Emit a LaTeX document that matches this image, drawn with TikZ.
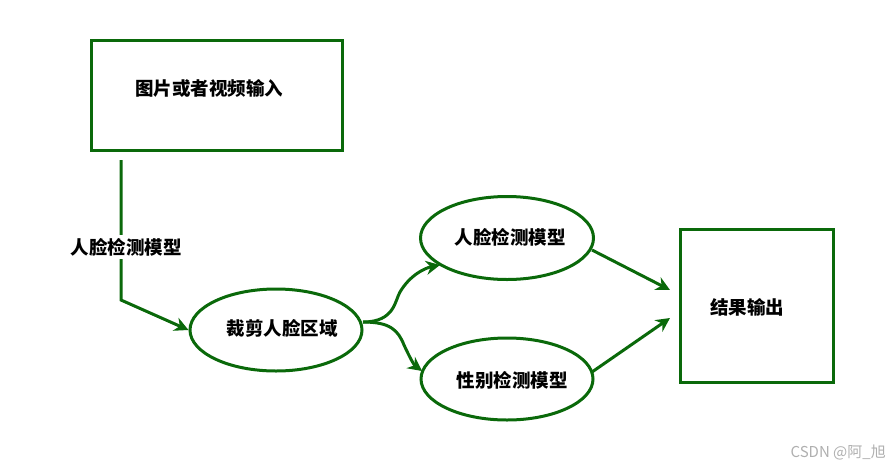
\documentclass[tikz,border=0pt]{standalone}
\usepackage{fontspec}
\setmainfont{Noto Sans CJK SC}
\usetikzlibrary{shapes.geometric,arrows.meta}
\definecolor{dg}{RGB}{10,105,10}
\definecolor{wm}{RGB}{175,175,175}
\tikzset{
  shp/.style={draw=dg, line width=3pt},
  boxshape/.style={shp, rectangle, inner sep=0pt},
  ellshape/.style={shp, ellipse, inner sep=0pt},
  txt/.style={font=\fontsize{18.5}{21}\selectfont\bfseries, inner sep=1pt},
  conn/.style={draw=dg, line width=3pt, -{Stealth[length=14pt,width=14pt]}},
}
\begin{document}
\begin{tikzpicture}[x=1pt,y=-1pt]
\useasboundingbox (0,0) rectangle (890,466);
% shapes
\node[boxshape, minimum width=251pt, minimum height=110pt] (box1) at (216.5,95) {};
\node[txt] (t1) at (209,88) {图片或者视频输入};
\node[ellshape, minimum width=172pt, minimum height=82pt] (e1) at (276,330) {};
\node[txt] (t2) at (282,328) {裁剪人脸区域};
\node[ellshape, minimum width=173pt, minimum height=83pt] (e2) at (507,238) {};
\node[txt] (t3) at (510,237) {人脸检测模型};
\node[ellshape, minimum width=172pt, minimum height=82pt] (e3) at (507,379) {};
\node[txt] (t4) at (512,380) {性别检测模型};
\node[boxshape, minimum width=153pt, minimum height=153pt] (box2) at (756.5,305.5) {};
\node[txt] (t5) at (747,307) {结果输出};
% connector coordinates
\coordinate (s1) at (121,160);
\coordinate (k1) at (121,300);
\coordinate (s2) at (363,322);
\coordinate (s3) at (592,250);
\coordinate (s4) at (592,372);
\coordinate (g1) at (670,290);
\coordinate (g2) at (670,318);
\coordinate (g3) at (440,265);
\coordinate (g4) at (422,371);
% connectors
\draw[conn] (s1) -- (k1) -- (e1.west);
\node[txt, fill=white, inner sep=3pt] (lab) at (126,247) {人脸检测模型};
\draw[conn] (s2) .. controls (395,322) and (395,300) .. (400,292) .. controls (410,275) and (425,268) .. (g3);
\draw[conn] (s2) .. controls (390,322) and (398,330) .. (404,345) .. controls (410,358) and (414,365) .. (g4);
\draw[conn] (s3) -- (g1);
\draw[conn] (s4) -- (g2);
% watermark
\node[font=\fontsize{15}{17}\selectfont, text=wm, anchor=east, inner sep=0pt] (wmk) at (886,452) {CSDN @阿\_旭};
\end{tikzpicture}
\end{document}
